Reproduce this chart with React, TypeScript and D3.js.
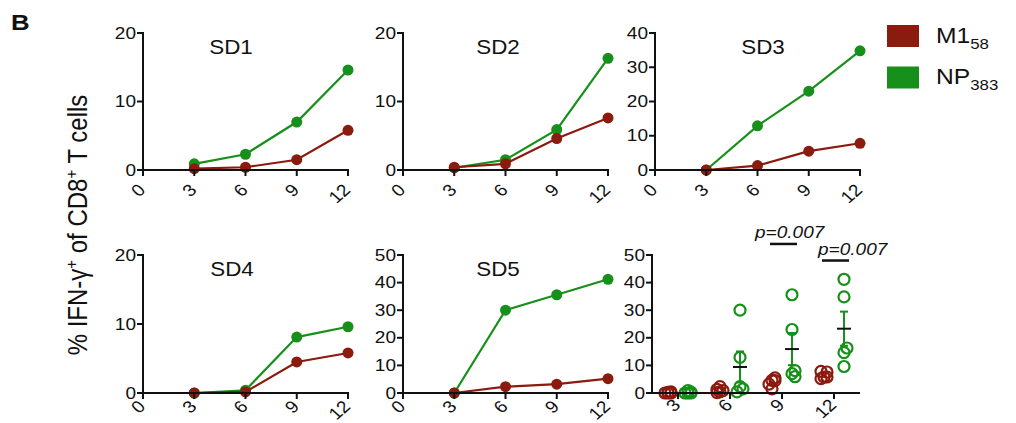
import React from "react";
import * as d3 from "d3";

// colours + fonts
const RED = "#8b1a0f";
const GREEN = "#17901b";
const INK = "#111";
const FONT = "'Liberation Sans', Arial, Helvetica, sans-serif";
const SX = 1.12; // the source figure's type is a bit wide

// data (percent IFN-g+ of CD8+ T cells, per donor, days 3..12)
const times = [3, 6, 9, 12];
const xTicks = [0, 3, 6, 9, 12];
const donors = ["SD1", "SD2", "SD3", "SD4", "SD5"];
const sd1M1 = [0.2, 0.4, 1.5, 5.8];
const sd1NP = [0.9, 2.3, 7.0, 14.6];
const sd2M1 = [0.4, 0.9, 4.6, 7.6];
const sd2NP = [0.3, 1.5, 5.9, 16.3];
const sd3M1 = [0, 1.3, 5.5, 7.8];
const sd3NP = [0, 12.9, 23.0, 34.8];
const sd4M1 = [0, 0.15, 4.5, 5.8];
const sd4NP = [0, 0.4, 8.1, 9.6];
const sd5M1 = [0, 2.3, 3.2, 5.2];
const sd5NP = [0, 30.0, 35.6, 41.2];
const m1Series = [sd1M1, sd2M1, sd3M1, sd4M1, sd5M1];
const npSeries = [sd1NP, sd2NP, sd3NP, sd4NP, sd5NP];
const yMax = [20, 20, 40, 20, 50];
const scatterMax = 50;
const pTimes = [9, 12];
const pTexts = ["p=0.007", "p=0.007"];
const pLevels = [54, 48];

// layout
const W = 1016;
const H = 423;
const PANEL_W = 205;
const rowBase = [170, 393];
const rowTop = [33, 255];
const rowLabelDy = [17, 10.5];
const panelLeft = [143, 403, 655, 143, 403];
const panelRow = [0, 0, 0, 1, 1];
const titleDx = [88, 95, 108, 89, 95];
const scatterLeft = 652;
const pTextDx = [-15, -4];

function Txt({ x, y, size, rotate = 0, anchor = "start", baseline, weight, italic, fill = INK, children }: any) {
  const tf = `translate(${x},${y}) scale(${SX},1)` + (rotate ? ` rotate(${rotate})` : "");
  return (
    <text
      transform={tf}
      fontSize={size}
      textAnchor={anchor}
      dominantBaseline={baseline}
      fontWeight={weight}
      fontStyle={italic ? "italic" : undefined}
      fontFamily={FONT}
      fill={fill}
    >
      {children}
    </text>
  );
}

function YAxis({ left, y, ticks }: any) {
  const [y0, y1] = y.range();
  return (
    <g>
      <line x1={left} x2={left} y1={y1 - 1} y2={y0 + 1} stroke={INK} strokeWidth={2} />
      {ticks.map((t: number) => (
        <g key={t}>
          <line x1={left - 6} x2={left} y1={y(t)} y2={y(t)} stroke={INK} strokeWidth={2} />
          <Txt x={left - 7} y={y(t)} size={17} anchor="end" baseline="central">
            {t}
          </Txt>
        </g>
      ))}
    </g>
  );
}

function LinePanel({ idx }: { idx: number }) {
  const left = panelLeft[idx];
  const row = panelRow[idx];
  const y0 = rowBase[row];
  const x = d3.scaleLinear().domain([0, 12]).range([left, left + PANEL_W]);
  const y = d3.scaleLinear().domain([0, yMax[idx]]).range([y0, rowTop[row]]);
  const yt = d3.range(0, yMax[idx] + 1, 10);
  const line = d3
    .line<number>()
    .x((_, i) => x(times[i]))
    .y((d) => y(d));
  const series = [
    { vals: npSeries[idx], color: GREEN },
    { vals: m1Series[idx], color: RED },
  ];
  return (
    <g>
      <Txt x={left + titleDx[idx]} y={rowTop[row] + 21} size={20} anchor="middle">
        {donors[idx]}
      </Txt>
      {series.map((s, si) => (
        <g key={si}>
          <path d={line(s.vals) || ""} fill="none" stroke={s.color} strokeWidth={2.2} />
          {s.vals.map((v, i) => (
            <circle key={i} cx={x(times[i])} cy={y(v)} r={5.5} fill={s.color} />
          ))}
        </g>
      ))}
      <YAxis left={left} y={y} ticks={yt} />
      <line x1={left} x2={left + PANEL_W + 1} y1={y0} y2={y0} stroke={INK} strokeWidth={2} />
      {xTicks.map((t) => (
        <g key={t}>
          <line x1={x(t)} x2={x(t)} y1={y0} y2={y0 + 6} stroke={INK} strokeWidth={2} />
          <Txt x={x(t) - 1} y={y0 + rowLabelDy[row]} size={17} anchor="end" baseline="central" rotate={-45}>
            {t}
          </Txt>
        </g>
      ))}
    </g>
  );
}

// nudge overlapping open circles sideways a little
function dodge(vals: number[], y: any) {
  const placed: { dx: number; cy: number }[] = [];
  const cands = [0, 3, -3];
  return vals.map((v) => {
    const cy = y(v);
    let best = 0;
    let bestD = -1;
    for (const dx of cands) {
      const d = placed.length ? d3.min(placed, (p) => Math.hypot(p.dx - dx, p.cy - cy))! : 99;
      if (d > bestD + 0.5) {
        best = dx;
        bestD = d;
      }
      if (d > 8) break;
    }
    placed.push({ dx: best, cy });
    return best;
  });
}

function ScatterPanel() {
  const left = scatterLeft;
  const y0 = rowBase[1];
  const groups = times.map(String);
  const xb = d3.scaleBand().domain(groups).range([left, left + 208]).padding(0);
  const bw = xb.bandwidth();
  const xs = d3.scalePoint().domain(["M1", "NP"]).range([0, bw]).padding(0.8);
  const y = d3.scaleLinear().domain([0, scatterMax]).range([y0, rowTop[1]]);
  const yt = d3.range(0, scatterMax + 1, 10);
  return (
    <g>
      {times.map((t, ti) => {
        const g = String(t);
        const m1 = m1Series.map((s) => s[ti]);
        const np = npSeries.map((s) => s[ti]);
        const xr = xb(g)! + xs("M1")!;
        const xg = xb(g)! + xs("NP")!;
        const mean = d3.mean(np)!;
        const sem = d3.deviation(np)! / Math.sqrt(np.length);
        const dr = dodge(m1, y);
        const dg = dodge(np, y);
        return (
          <g key={g}>
            {m1.map((v, i) => (
              <circle key={"r" + i} cx={xr + dr[i]} cy={y(v)} r={5.5} fill="none" stroke={RED} strokeWidth={2.2} />
            ))}
            {np.map((v, i) => (
              <circle key={"g" + i} cx={xg + dg[i]} cy={y(v)} r={5.5} fill="none" stroke={GREEN} strokeWidth={2.2} />
            ))}
            {t > 3 && (
              <g>
                <line x1={xg} x2={xg} y1={y(mean - sem)} y2={y(mean + sem)} stroke={GREEN} strokeWidth={2} />
                <line x1={xg - 4} x2={xg + 4} y1={y(mean + sem)} y2={y(mean + sem)} stroke={GREEN} strokeWidth={2} />
                <line x1={xg - 4} x2={xg + 4} y1={y(mean - sem)} y2={y(mean - sem)} stroke={GREEN} strokeWidth={2} />
                <line x1={xg - 7} x2={xg + 7} y1={y(mean)} y2={y(mean)} stroke={INK} strokeWidth={2} />
              </g>
            )}
          </g>
        );
      })}
      {pTimes.map((t, i) => {
        const g = String(t);
        const xr = xb(g)! + xs("M1")!;
        const xg = xb(g)! + xs("NP")!;
        const py = y(pLevels[i]);
        return (
          <g key={"p" + i}>
            <line x1={xr - 2} x2={xg + 5} y1={py} y2={py} stroke={INK} strokeWidth={2.5} />
            <Txt x={xr - 2 + pTextDx[i]} y={py - 6} size={17} italic>
              {pTexts[i]}
            </Txt>
          </g>
        );
      })}
      <YAxis left={left} y={y} ticks={yt} />
      <line x1={left} x2={left + 208} y1={y0} y2={y0} stroke={INK} strokeWidth={2} />
      {groups.map((g) => {
        const cx = xb(g)! + bw / 2;
        return (
          <g key={g}>
            <line x1={cx} x2={cx} y1={y0} y2={y0 + 6} stroke={INK} strokeWidth={2} />
            <Txt x={cx - 1} y={y0 + 9} size={17} anchor="end" baseline="central" rotate={-45}>
              {g}
            </Txt>
          </g>
        );
      })}
    </g>
  );
}

function Legend() {
  const items = [
    { color: RED, main: "M1", sub: "58", y: 25 },
    { color: GREEN, main: "NP", sub: "383", y: 66.5 },
  ];
  return (
    <g>
      {items.map((it) => (
        <g key={it.main}>
          <rect x={887} y={it.y} width={32} height={22} fill={it.color} />
          <text
            transform={`translate(936,${it.y + 17.7}) scale(${SX},1)`}
            fontSize={22}
            fontFamily={FONT}
            fill={INK}
          >
            {it.main}
            <tspan fontSize={15} dy={6}>
              {it.sub}
            </tspan>
          </text>
        </g>
      ))}
    </g>
  );
}

export default function App() {
  return (
    <svg
      width={W}
      height={H}
      viewBox={`0 0 ${W} ${H}`}
      style={{ position: "absolute", left: 0, top: 0, background: "#fff" }}
    >
      <rect width={W} height={H} fill="#fff" />
      <Txt x={11} y={30} size={23} weight="bold">
        B
      </Txt>
      <text
        transform={`translate(87,225) scale(${SX},1) rotate(-90)`}
        fontSize={24}
        fontFamily={FONT}
        textAnchor="middle"
        fill={INK}
      >
        % IFN-γ
        <tspan fontSize={15} dy={-9}>
          +
        </tspan>
        <tspan dy={9}> of CD8</tspan>
        <tspan fontSize={15} dy={-9}>
          +
        </tspan>
        <tspan dy={9}> T cells</tspan>
      </text>
      {donors.map((d, i) => (
        <LinePanel key={d} idx={i} />
      ))}
      <ScatterPanel />
      <Legend />
    </svg>
  );
}
